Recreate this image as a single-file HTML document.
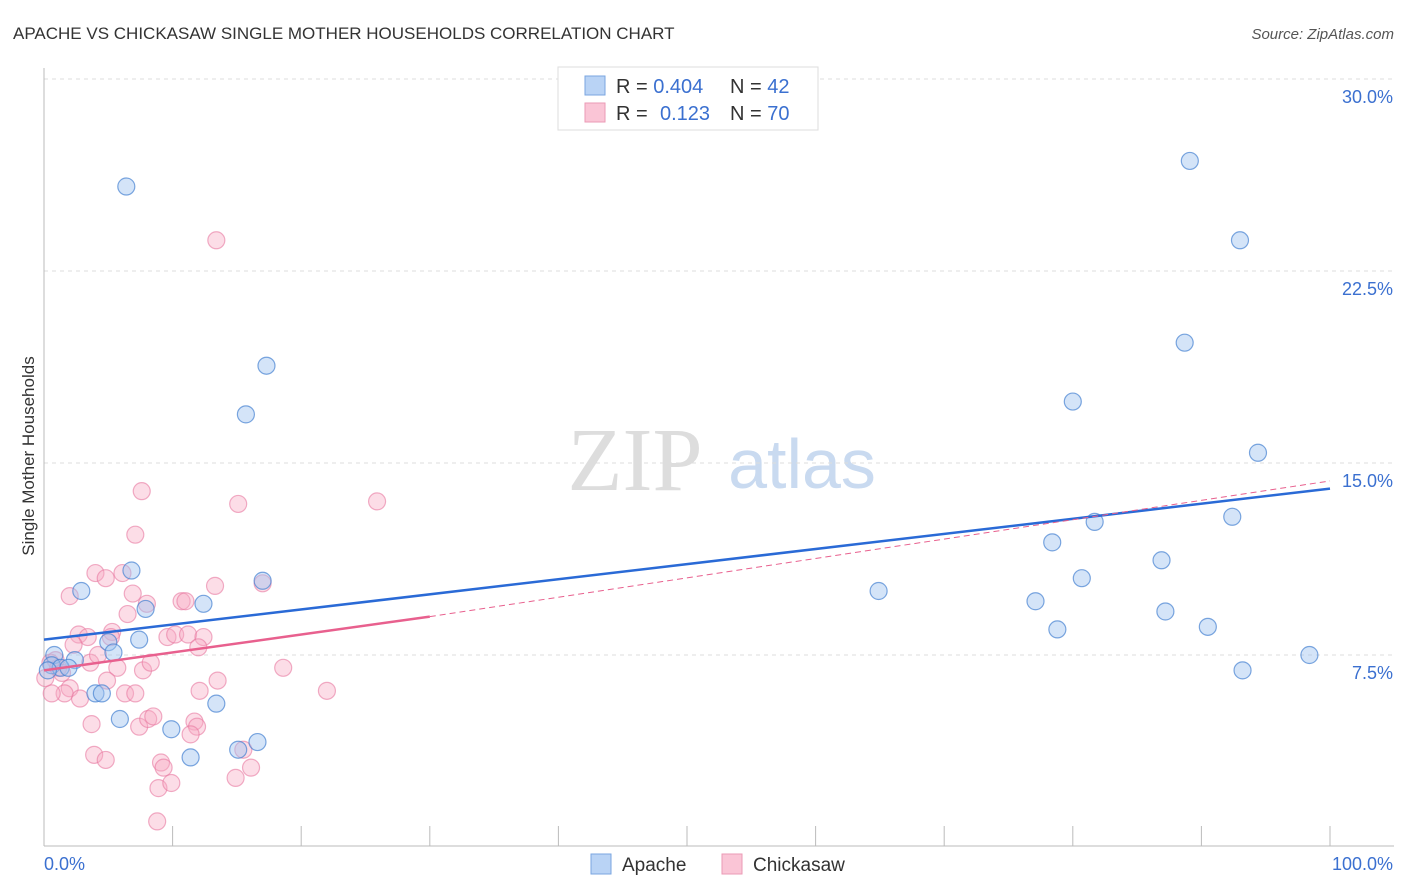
<!DOCTYPE html>
<html><head><meta charset="utf-8"><style>
body{margin:0;background:#fff;font-family:"Liberation Sans",sans-serif}
svg{display:block}
</style></head><body>
<svg id="c" width="1406" height="892" xmlns="http://www.w3.org/2000/svg">
<text x="13" y="39" font-size="17" fill="#333">APACHE VS CHICKASAW SINGLE MOTHER HOUSEHOLDS CORRELATION CHART</text>
<text x="1394" y="39" font-size="15" fill="#555" font-style="italic" text-anchor="end">Source: ZipAtlas.com</text>
<text x="34" y="456" font-size="17" fill="#333" text-anchor="middle" transform="rotate(-90 34 456)">Single Mother Households</text>
<g><text x="635" y="490" font-size="90" font-family="Liberation Serif,serif" fill="#ddd" text-anchor="middle">ZIP</text><text x="802" y="488" font-size="70" fill="#c9daf0" text-anchor="middle">atlas</text></g>
<g id="grid"></g><g id="axes"></g><g id="pts"></g><g id="lines"></g>
<g>
<rect x="558" y="67" width="260" height="63" fill="#fff" stroke="#ddd"/>
<rect x="585" y="76" width="20" height="19" fill="#b9d3f5" stroke="#7aa6e0"/>
<rect x="585" y="103" width="20" height="19" fill="#fac5d6" stroke="#eb9ab5"/>
<text x="616" y="93" font-size="20" fill="#333">R = <tspan fill="#3b70d0">0.404</tspan><tspan x="730">N = </tspan><tspan fill="#3b70d0">42</tspan></text>
<text x="616" y="120" font-size="20" fill="#333">R = <tspan x="660" fill="#3b70d0">0.123</tspan><tspan x="730">N = </tspan><tspan fill="#3b70d0">70</tspan></text>
</g>
<g>
<rect x="591" y="854" width="20" height="20" fill="#b9d3f5" stroke="#7aa6e0"/><text x="622" y="871" font-size="19" fill="#333">Apache</text>
<rect x="722" y="854" width="20" height="20" fill="#fac5d6" stroke="#eb9ab5"/><text x="753" y="871" font-size="19" fill="#333">Chickasaw</text>
</g>
</svg>
<script>
const yTicks=[7.5,15,22.5,30];
const yTickLabels=["7.5%","15.0%","22.5%","30.0%"];
const apacheX=[6.4,17.3,15.7,89.1,93,88.7,80,94.4,92.4,81.7,78.4,86.9,80.7,64.9,77.1,87.2,78.8,90.5,98.4,93.2,2.9,6.8,7.9,12.4,17,7.4,5,5.4,2.4,0.8,0.6,1.3,1.9,4,4.5,5.9,9.9,13.4,11.4,15.1,16.6,0.3];
const apacheY=[25.8,18.8,16.9,26.8,23.7,19.7,17.4,15.4,12.9,12.7,11.9,11.2,10.5,10,9.6,9.2,8.5,8.6,7.5,6.9,10,10.8,9.3,9.5,10.4,8.1,8,7.6,7.3,7.5,7.1,7,7,6,6,5,4.6,5.6,3.5,3.8,4.1,6.9];
const chickX=[7.6,15.1,25.9,7.1,4,4.8,6.1,2,6.9,8,6.5,10.7,13.3,17,11,2.7,3.4,5.3,2.3,9.6,10.2,11.2,12.4,12,5.2,18.6,22,5.7,7.7,8.3,3.6,4.2,12.1,13.5,6.3,7.1,2,2.8,1.6,0.6,4.9,3.7,7.4,8.1,8.5,11.7,11.9,11.4,15.5,3.9,4.8,9.1,9.3,8.9,9.9,16.1,14.9,8.8,13.4,0.5,1.1,0.9,1.4,0.1];
const chickY=[13.9,13.4,13.5,12.2,10.7,10.5,10.7,9.8,9.9,9.5,9.1,9.6,10.2,10.3,9.6,8.3,8.2,8.4,7.9,8.2,8.3,8.3,8.2,7.8,8.2,7,6.1,7,6.9,7.2,7.2,7.5,6.1,6.5,6,6,6.2,5.8,6,6,6.5,4.8,4.7,5,5.1,4.9,4.7,4.4,3.8,3.6,3.4,3.3,3.1,2.3,2.5,3.1,2.7,1,23.7,7.2,7,7.3,6.8,6.6];
const X=v=>44+v*12.86, Y=v=>847-v*25.6;
const NS="http://www.w3.org/2000/svg";
function mk(p,t,a){const e=document.createElementNS(NS,t);for(const k in a)e.setAttribute(k,a[k]);document.getElementById(p).appendChild(e);return e;}
yTicks.forEach((t,i)=>{
 let l=mk('grid','line',{x1:44,x2:1394,y1:Y(t),y2:Y(t),stroke:'#ddd','stroke-dasharray':'4 4'});
 
 
 let tx=mk('grid','text',{x:1393,y:Y(t)+24,'font-size':18,fill:'#3b70d0','text-anchor':'end'});tx.textContent=yTickLabels[i];
 
 
});
let ax=mk('axes','line',{x1:44,x2:44,y1:68,y2:846,stroke:'#bbb'});


let bx=mk('axes','line',{x1:44,x2:1394,y1:846,y2:846,stroke:'#bbb'});


for(let i=1;i<=10;i++){let t=mk('axes','line',{x1:X(i*10),x2:X(i*10),y1:826,y2:846,stroke:'#bbb'});
 
 }
let l0=mk('axes','text',{x:44,y:870,'font-size':18,fill:'#3b70d0'});l0.textContent='0.0%';


let l1=mk('axes','text',{x:1393,y:870,'font-size':18,fill:'#3b70d0','text-anchor':'end'});l1.textContent='100.0%';


chickX.forEach((x,i)=>{let c=mk('pts','circle',{cx:X(x),cy:Y(chickY[i]),r:8.5,fill:'rgba(248,170,196,0.4)',stroke:'rgba(232,120,160,0.6)','stroke-width':1.2});
 
 });
apacheX.forEach((x,i)=>{let c=mk('pts','circle',{cx:X(x),cy:Y(apacheY[i]),r:8.5,fill:'rgba(160,196,240,0.45)',stroke:'rgba(70,130,210,0.7)','stroke-width':1.2});
 
 });
let bl=mk('lines','line',{x1:X(0),y1:Y(8.1),x2:X(100),y2:Y(14),stroke:'#2a6ad6','stroke-width':2.5});


let pl=mk('lines','line',{x1:X(0),y1:Y(6.9),x2:X(30),y2:Y(9),stroke:'#e8608e','stroke-width':2.5});


let pd=mk('lines','line',{x1:X(30),y1:Y(9),x2:X(100),y2:Y(14.3),stroke:'#e8608e','stroke-width':1,'stroke-dasharray':'6 4'});


</script>
</body></html>
